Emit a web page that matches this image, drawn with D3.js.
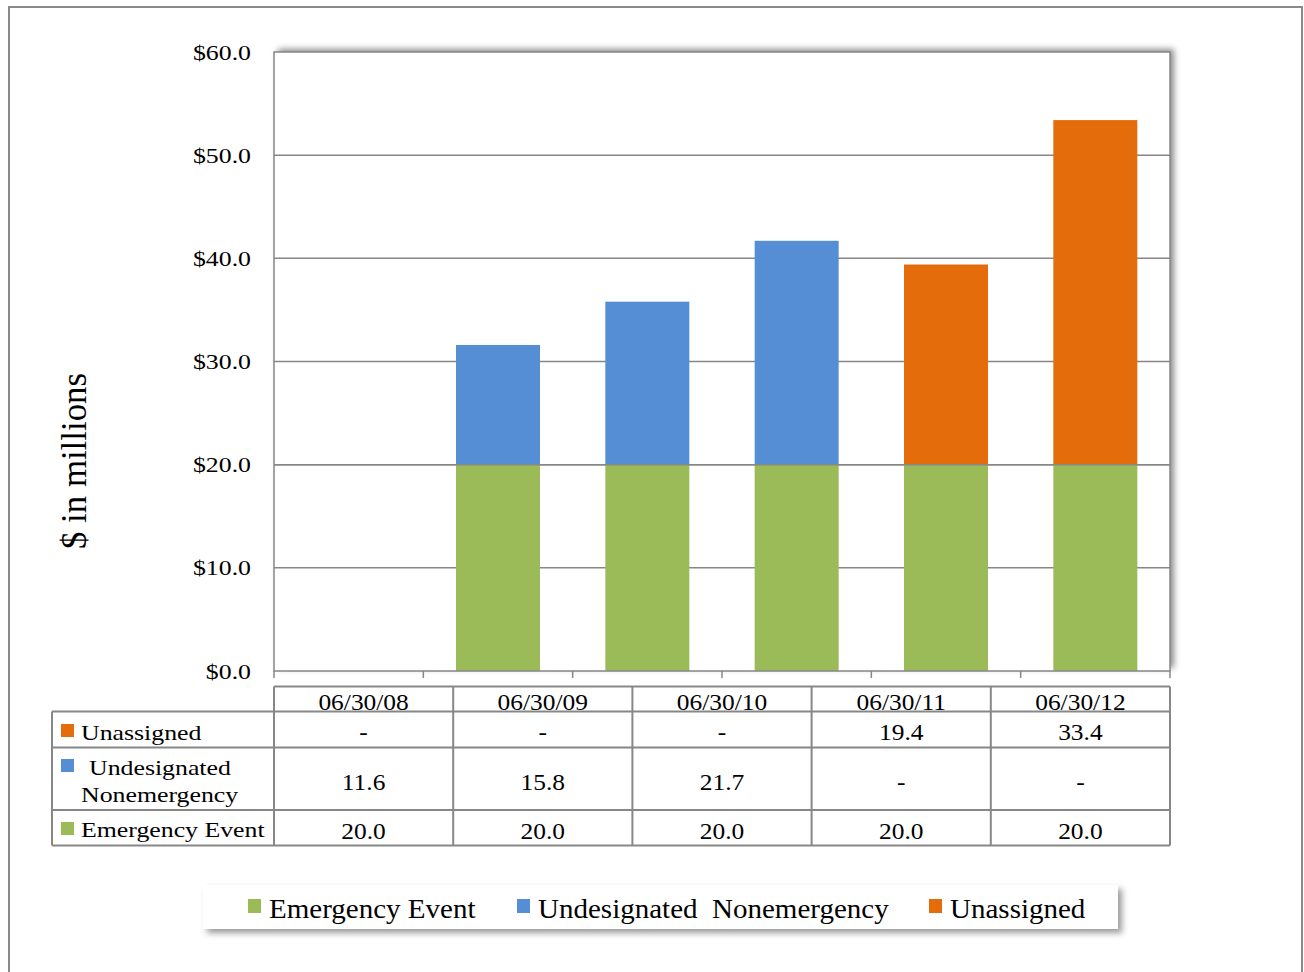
<!DOCTYPE html>
<html>
<head>
<meta charset="utf-8">
<script src="https://cdn.jsdelivr.net/npm/d3@7"></script>
<style>
  body { margin: 0; background: #fff; }
  text { font-family: "Liberation Serif", "Times New Roman", serif; fill: #000; }
</style>
</head>
<body>
<svg id="chart" width="1304" height="972"></svg>
<script>
// Fiscal year-end balances, $ in millions
const categories = ["06/30/08", "06/30/09", "06/30/10", "06/30/11", "06/30/12"];
const emergencyEvent = [20.0, 20.0, 20.0, 20.0, 20.0];
const undesignatedNonemergency = [11.6, 15.8, 21.7, null, null];
const unassigned = [null, null, null, 19.4, 33.4];
const seriesNames = ["Emergency Event", "Undesignated  Nonemergency", "Unassigned"];
const seriesColors = ["#9BBB59", "#558ED5", "#E46C0A"];
const yTicks = [0, 10, 20, 30, 40, 50, 60];

const svg = d3.select("#chart");
const gridColor = "#878787";

// horizontal widening of glyphs
function widen(sel, k) {
  sel.each(function () {
    const w = this.getComputedTextLength();
    this.setAttribute("textLength", w * k);
    this.setAttribute("lengthAdjust", "spacingAndGlyphs");
  });
}

const defs = svg.append("defs");
const shPlot = defs.append("filter").attr("id", "shPlot")
  .attr("x", "-5%").attr("y", "-5%").attr("width", "110%").attr("height", "110%");
shPlot.append("feDropShadow").attr("dx", 4).attr("dy", -3).attr("stdDeviation", 3)
  .attr("flood-color", "#000").attr("flood-opacity", 0.45);
const shLeg = defs.append("filter").attr("id", "shLeg")
  .attr("x", "-5%").attr("y", "-30%").attr("width", "110%").attr("height", "160%");
shLeg.append("feDropShadow").attr("dx", 4).attr("dy", 4).attr("stdDeviation", 3)
  .attr("flood-color", "#000").attr("flood-opacity", 0.4);

// outer frame
svg.append("rect").attr("x", 9).attr("y", 7).attr("width", 1293).attr("height", 990)
  .attr("fill", "none").attr("stroke", "#8a8a8a").attr("stroke-width", 2);

const plot = { left: 274, right: 1170, top: 52, bottom: 671 };

const y = d3.scaleLinear().domain([0, 60]).range([plot.bottom, plot.top]);

// six slots along the axis, the first one left without a bar
const slots = ["slot0"].concat(categories);
const x = d3.scaleBand().domain(slots).range([plot.left, plot.right])
  .paddingInner(0.4375).paddingOuter(0.21875);

// plot area background with shadow
svg.append("rect")
  .attr("x", plot.left).attr("y", plot.top)
  .attr("width", plot.right - plot.left).attr("height", plot.bottom - plot.top)
  .attr("fill", "#fff").attr("filter", "url(#shPlot)");

// gridlines
svg.append("g").selectAll("line").data(yTicks.filter(d => d > 0 && d < 60)).join("line")
  .attr("x1", plot.left).attr("x2", plot.right)
  .attr("y1", d => y(d)).attr("y2", d => y(d))
  .attr("stroke", gridColor).attr("stroke-width", 1.5);

// stacked bars
const rows = categories.map((c, i) => ({
  cat: c,
  e: emergencyEvent[i] || 0,
  u: undesignatedNonemergency[i] || 0,
  a: unassigned[i] || 0
}));
const stack = d3.stack().keys(["e", "u", "a"]);
const layers = stack(rows);
svg.append("g").selectAll("g").data(layers).join("g")
  .attr("fill", (d, i) => seriesColors[i])
  .selectAll("rect").data(d => d.filter(p => p[1] > p[0])).join("rect")
  .attr("x", d => x(d.data.cat))
  .attr("width", x.bandwidth())
  .attr("y", d => y(d[1]))
  .attr("height", d => y(d[0]) - y(d[1]));

// boundary line at $20.0 drawn through bars
svg.append("line")
  .attr("x1", plot.left).attr("x2", plot.right)
  .attr("y1", y(20)).attr("y2", y(20))
  .attr("stroke", gridColor).attr("stroke-width", 1.5);

// plot border
svg.append("rect")
  .attr("x", plot.left).attr("y", plot.top)
  .attr("width", plot.right - plot.left).attr("height", plot.bottom - plot.top)
  .attr("fill", "none").attr("stroke", gridColor).attr("stroke-width", 1.5);

// slot tick marks under the axis
const step = x.step();
const edges = d3.range(slots.length + 1).map(i => plot.left + i * step);
svg.append("g").selectAll("line").data(edges).join("line")
  .attr("x1", d => d).attr("x2", d => d)
  .attr("y1", plot.bottom).attr("y2", plot.bottom + 7)
  .attr("stroke", gridColor).attr("stroke-width", 1.5);

// y axis labels
const yLab = svg.append("g").selectAll("text").data(yTicks).join("text")
  .attr("x", 251).attr("y", d => y(d)).attr("dy", "0.35em")
  .attr("text-anchor", "end").attr("font-size", 21.5)
  .text(d => "$" + d.toFixed(1));
widen(yLab, 1.2);

// y axis title
svg.append("text")
  .attr("transform", "translate(86,461) scale(1.15,1) rotate(-90)")
  .attr("text-anchor", "middle").attr("font-size", 31)
  .attr("textLength", 176).attr("lengthAdjust", "spacingAndGlyphs")
  .text("$ in millions");

// data table
const tbl = { labelLeft: 52, top: 686.5, rowEdges: [686.5, 711.5, 747.5, 810, 845.5] };
const col = d3.scaleBand().domain(categories).range([plot.left, plot.right]);
const tg = svg.append("g");
const lineAttrs = s => s.attr("stroke", gridColor).attr("stroke-width", 2);

// horizontal rules
tg.append("line").call(lineAttrs)
  .attr("x1", plot.left).attr("x2", plot.right).attr("y1", tbl.rowEdges[0]).attr("y2", tbl.rowEdges[0]);
tbl.rowEdges.slice(1).forEach(yy => {
  tg.append("line").call(lineAttrs)
    .attr("x1", tbl.labelLeft).attr("x2", plot.right).attr("y1", yy).attr("y2", yy);
});
// vertical rules
tg.append("line").call(lineAttrs)
  .attr("x1", tbl.labelLeft).attr("x2", tbl.labelLeft)
  .attr("y1", tbl.rowEdges[1]).attr("y2", tbl.rowEdges[4]);
categories.concat(["end"]).forEach((c, i) => {
  const xx = plot.left + i * col.step();
  tg.append("line").call(lineAttrs)
    .attr("x1", xx).attr("x2", xx).attr("y1", tbl.rowEdges[0]).attr("y2", tbl.rowEdges[4]);
});

// header
const hdr = tg.selectAll("text.hdr").data(categories).join("text").attr("class", "hdr")
  .attr("x", d => col(d) + col.bandwidth() / 2).attr("y", 710)
  .attr("text-anchor", "middle").attr("font-size", 22.5).text(d => d);
widen(hdr, 1.13);

// value rows: Unassigned, Undesignated Nonemergency, Emergency Event
const tableRows = [
  { values: unassigned, color: seriesColors[2], labels: ["Unassigned"], base: 740 },
  { values: undesignatedNonemergency, color: seriesColors[1], labels: [" Undesignated", "Nonemergency"], base: 790 },
  { values: emergencyEvent, color: seriesColors[0], labels: ["Emergency Event"], base: 838.5 }
];
const labelBases = [[740], [775, 801.5], [837]];
const keyTops = [724, 759, 822];
tableRows.forEach((r, ri) => {
  tg.append("rect").attr("x", 61).attr("y", keyTops[ri]).attr("width", 13).attr("height", 13)
    .attr("fill", r.color);
  r.labels.forEach((lab, li) => {
    const t = tg.append("text").attr("x", li === 0 && r.labels.length > 1 ? 89 : 81)
      .attr("y", labelBases[ri][li]).attr("font-size", 21.5).text(lab.trim());
    widen(t, 1.2);
  });
  const vt = tg.selectAll("text.v" + ri).data(r.values).join("text").attr("class", "v" + ri)
    .attr("x", (d, i) => col(categories[i]) + col.bandwidth() / 2).attr("y", r.base)
    .attr("text-anchor", "middle").attr("font-size", 22.5)
    .text(d => d == null ? "-" : d.toFixed(1));
  widen(vt, 1.13);
});

// legend
const leg = svg.append("g");
leg.append("rect").attr("x", 203).attr("y", 885).attr("width", 915).attr("height", 44)
  .attr("fill", "#fff").attr("filter", "url(#shLeg)");
const legX = [248, 517, 929];
seriesNames.forEach((n, i) => {
  leg.append("rect").attr("x", legX[i]).attr("y", 899).attr("width", 13).attr("height", 14)
    .attr("fill", seriesColors[i]);
  const t = leg.append("text").attr("x", legX[i] + 21).attr("y", 918)
    .attr("font-size", 27.5).attr("xml:space", "preserve").style("white-space", "pre").text(n);
  widen(t, 1.055);
});
</script>
</body>
</html>
